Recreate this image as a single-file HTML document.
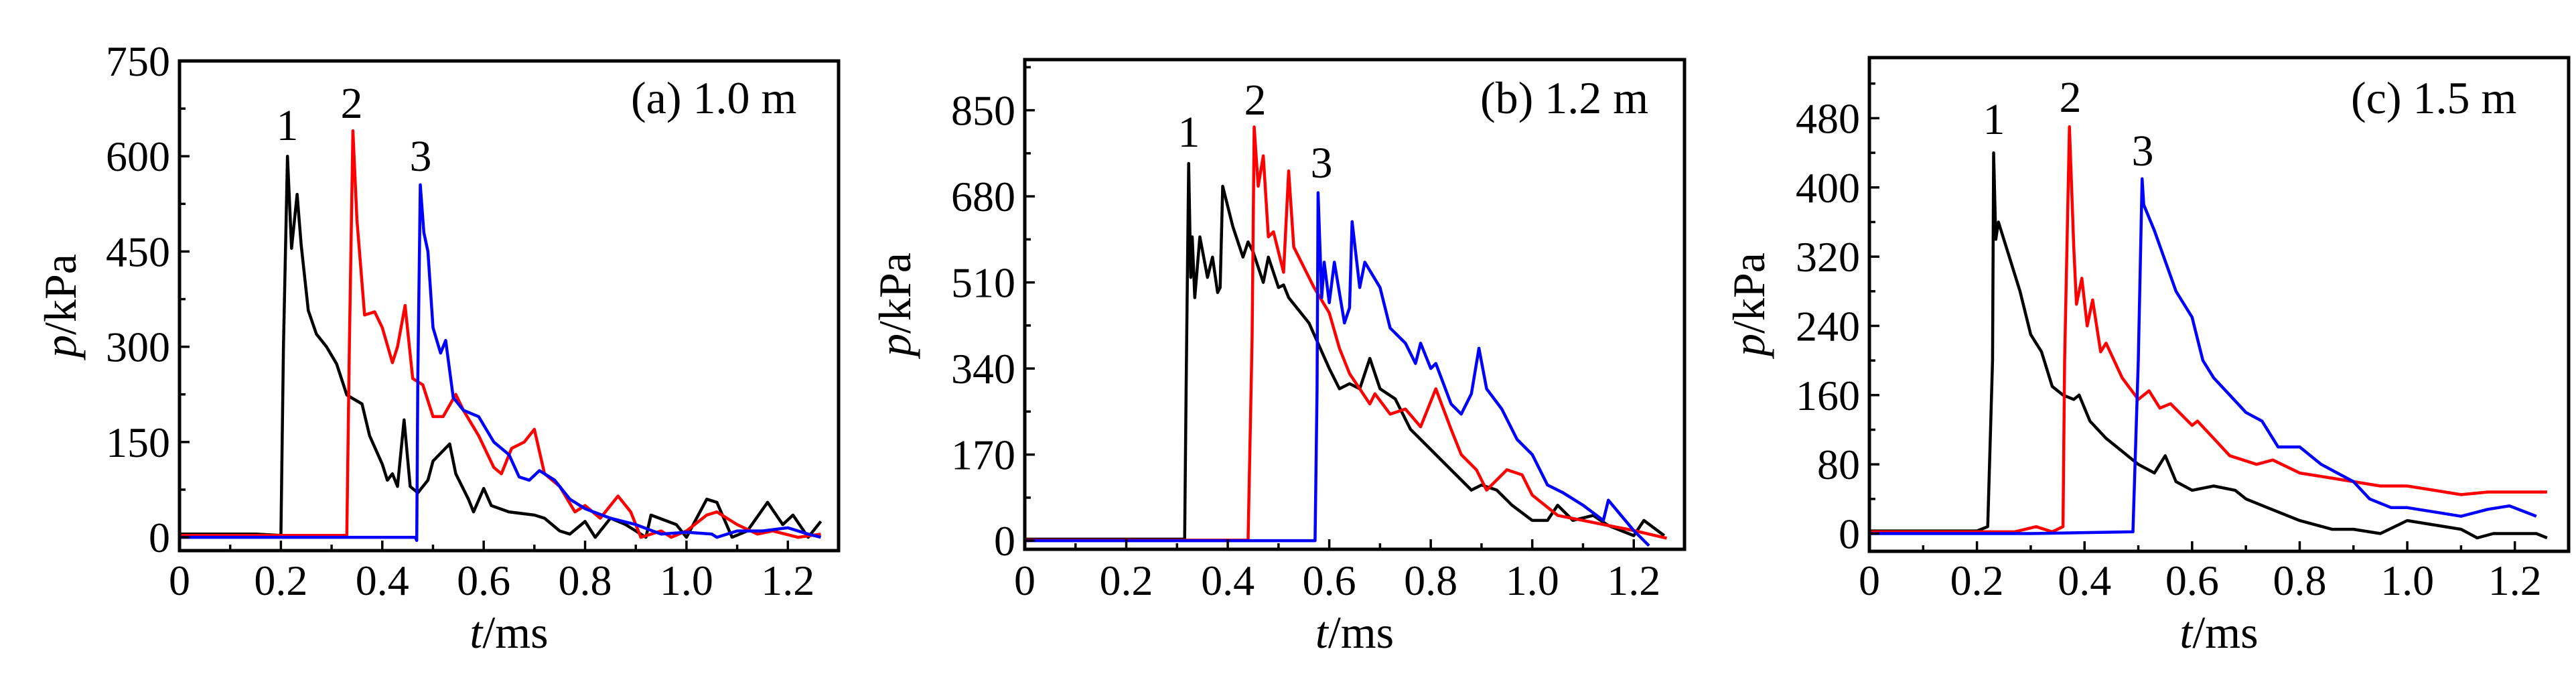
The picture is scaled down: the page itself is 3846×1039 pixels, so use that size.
<!DOCTYPE html>
<html><head><meta charset="utf-8"><style>
html,body{margin:0;padding:0;background:#fff;}
svg{display:block;font-family:"Liberation Serif",serif;}
</style></head><body>
<svg id="fig" width="3846" height="1039" viewBox="0 0 3846 1039" xmlns="http://www.w3.org/2000/svg"></svg>
<script>
// ---- data (t in ms, p in kPa) ----
const xTicks = [0, 0.2, 0.4, 0.6, 0.8, 1.0, 1.2];
const xTickLabels = ["0", "0.2", "0.4", "0.6", "0.8", "1.0", "1.2"];
const yTicksA = [0, 150, 300, 450, 600, 750];
const yTicksB = [0, 170, 340, 510, 680, 850];
const yTicksC = [0, 80, 160, 240, 320, 400, 480];

const a1T = [0,0.1,0.15,0.2,0.205,0.213,0.221,0.232,0.24,0.254,0.27,0.29,0.31,0.33,0.36,0.375,0.4,0.41,0.42,0.43,0.443,0.455,0.47,0.49,0.5,0.533,0.545,0.57,0.58,0.6,0.615,0.65,0.7,0.72,0.75,0.77,0.8,0.82,0.85,0.88,0.92,0.93,0.98,1.0,1.04,1.06,1.09,1.12,1.16,1.19,1.21,1.24,1.265];
const a1P = [5,5,5,3,300,600,455,540,460,357,320,300,273,224,210,160,115,90,100,80,185,80,70,90,120,147,100,60,40,77,50,40,35,30,10,5,25,0,30,20,0,35,20,0,60,55,0,10,55,20,35,0,25];
const a2T = [0,0.2,0.33,0.335,0.342,0.35,0.365,0.385,0.4,0.42,0.43,0.445,0.46,0.48,0.5,0.52,0.545,0.56,0.59,0.62,0.635,0.655,0.68,0.7,0.72,0.75,0.78,0.8,0.83,0.865,0.89,0.91,0.95,0.97,1.0,1.04,1.06,1.1,1.14,1.17,1.22,1.265];
const a2P = [3,3,3,300,640,500,350,355,330,275,300,365,250,240,190,190,225,200,160,110,100,140,150,170,100,80,40,50,30,65,40,0,10,0,10,35,40,20,5,10,0,5];
const a3T = [0,0.3,0.465,0.468,0.47,0.475,0.482,0.49,0.5,0.515,0.525,0.54,0.56,0.59,0.62,0.65,0.67,0.69,0.71,0.74,0.77,0.8,0.85,0.9,0.95,1.0,1.05,1.06,1.1,1.15,1.2,1.24,1.265];
const a3P = [0,0,0,-5,250,555,480,450,330,290,310,220,200,190,150,130,95,90,105,90,60,45,30,20,5,8,5,0,10,10,15,5,0];

const b1T = [0,0.2,0.315,0.318,0.323,0.327,0.33,0.335,0.345,0.36,0.37,0.38,0.385,0.39,0.41,0.43,0.44,0.45,0.47,0.48,0.5,0.51,0.52,0.56,0.6,0.62,0.64,0.66,0.68,0.7,0.73,0.76,0.8,0.85,0.88,0.9,0.93,0.96,1.0,1.03,1.05,1.08,1.12,1.15,1.2,1.22,1.26];
const b1P = [3,3,3,300,745,520,600,480,600,520,560,490,500,700,620,560,590,570,510,560,500,505,480,430,340,300,310,300,360,300,280,220,180,130,100,110,100,70,40,40,70,40,50,30,10,40,10];
const b2T = [0,0.2,0.44,0.448,0.452,0.46,0.47,0.48,0.49,0.51,0.52,0.53,0.55,0.57,0.6,0.62,0.64,0.68,0.69,0.72,0.75,0.78,0.81,0.84,0.86,0.89,0.91,0.95,0.98,1.0,1.05,1.1,1.15,1.2,1.265];
const b2P = [1,1,1,400,817,700,760,600,610,530,730,580,540,500,450,380,330,270,290,250,260,225,300,220,170,140,100,140,130,90,50,40,30,20,5];
const b3T = [0,0.3,0.572,0.576,0.578,0.585,0.59,0.6,0.61,0.63,0.64,0.645,0.66,0.67,0.7,0.72,0.75,0.77,0.78,0.8,0.81,0.84,0.86,0.88,0.895,0.91,0.94,0.97,1.0,1.03,1.06,1.1,1.14,1.15,1.2,1.23];
const b3P = [0,0,0,300,687,480,550,470,550,430,460,630,500,550,500,420,390,350,390,340,350,270,250,290,380,300,260,200,170,110,95,70,40,80,20,-10];

const c1T = [0,0.2,0.22,0.229,0.231,0.235,0.24,0.26,0.28,0.3,0.32,0.34,0.36,0.38,0.39,0.41,0.44,0.46,0.5,0.53,0.55,0.57,0.6,0.64,0.68,0.7,0.74,0.78,0.8,0.86,0.9,0.95,1.0,1.05,1.1,1.13,1.16,1.24,1.26];
const c1P = [3,3,8,200,440,340,360,320,280,230,210,170,160,155,160,130,110,100,80,70,90,60,50,55,50,40,30,20,15,5,5,0,15,10,5,-5,0,0,-5];
const c2T = [0,0.27,0.31,0.34,0.36,0.363,0.372,0.38,0.385,0.395,0.405,0.415,0.43,0.44,0.47,0.5,0.52,0.54,0.56,0.6,0.61,0.64,0.67,0.72,0.75,0.8,0.85,0.9,0.95,1.0,1.05,1.1,1.15,1.26];
const c2P = [2,2,8,2,8,200,470,330,265,295,240,270,210,220,180,155,165,145,150,125,130,110,90,80,85,70,65,60,55,55,50,45,48,48];
const c3T = [0,0.3,0.49,0.5,0.507,0.51,0.53,0.57,0.6,0.62,0.64,0.67,0.7,0.73,0.76,0.8,0.84,0.87,0.9,0.93,0.97,1.0,1.05,1.1,1.15,1.19,1.24];
const c3P = [0,0,2,200,410,380,350,280,250,200,180,160,140,130,100,100,80,70,60,40,30,30,25,20,28,32,20];

const NS = "http://www.w3.org/2000/svg";
const svg = document.getElementById('fig');
function mk(tag, attrs, parent){ const e=document.createElementNS(NS,tag); for(const k in attrs) e.setAttribute(k,attrs[k]); (parent||svg).appendChild(e); return e; }

const panels = [
  {id:'a', L:268, R:1252, T:91, B:822, yMin:-21, yMax:750, yTicks:yTicksA, yStep:75, title:"(a) 1.0 m", titleX:942, ytX:91,
   series:[[a1T,a1P,'#000'],[a2T,a2P,'#ff0000'],[a3T,a3P,'#0000ff']],
   nums:[[429,209],[525,176],[628,255]]},
  {id:'b', L:1530, R:2515, T:89, B:820, yMin:-17, yMax:950, yTicks:yTicksB, yStep:85, title:"(b) 1.2 m", titleX:2210, ytX:1337,
   series:[[b1T,b1P,'#000'],[b2T,b2P,'#ff0000'],[b3T,b3P,'#0000ff']],
   nums:[[1775,219],[1874,171],[1973,265]]},
  {id:'c', L:2791, R:3835, T:86, B:823, yMin:-20.5, yMax:550, yTicks:yTicksC, yStep:40, title:"(c) 1.5 m", titleX:3510, ytX:2612,
   series:[[c1T,c1P,'#000'],[c2T,c2P,'#ff0000'],[c3T,c3P,'#0000ff']],
   nums:[[2977,200],[3091,167],[3199,247]]}
];

panels.forEach(p=>{
  const g = mk('g',{});
  
  
  const xs = t => p.L + t/1.3*(p.R-p.L);
  const ys = v => p.B - (v-p.yMin)/(p.yMax-p.yMin)*(p.B-p.T);
  const cp = mk('clipPath',{id:'clip'+p.id},g);
  mk('rect',{x:p.L,y:p.T,width:p.R-p.L,height:p.B-p.T},cp);
  p.series.forEach((s,i)=>{
    const pts = s[0].map((t,j)=>xs(t).toFixed(1)+','+ys(s[1][j]).toFixed(1)).join(' ');
    const pl = mk('polyline',{points:pts,fill:'none',stroke:s[2],'stroke-width':4.5,'stroke-linejoin':'round','clip-path':'url(#clip'+p.id+')'},g);
    
    
  });
  const fr = mk('rect',{x:p.L,y:p.T,width:p.R-p.L,height:p.B-p.T,fill:'none',stroke:'#000','stroke-width':5},g);
  
  
  for(let k=0;k<=12;k++){
    const t=k*0.1, X=xs(t), len = k%2===0?15:9;
    mk('line',{x1:X,y1:p.B,x2:X,y2:p.B-len,stroke:'#000','stroke-width':3.5},g);
  }
  xTicks.forEach((t,i)=>{
    const tx = mk('text',{x:xs(t),y:888,'font-size':64,'text-anchor':'middle'},g);
    tx.textContent = xTickLabels[i];
    
    
  });
  for(let v=0; v<=p.yMax; v+=p.yStep){
    const Y=ys(v), major = Math.round(v/p.yStep)%2===0;
    mk('line',{x1:p.L,y1:Y,x2:p.L+(major?15:9),y2:Y,stroke:'#000','stroke-width':3.5},g);
  }
  p.yTicks.forEach(v=>{
    const tx = mk('text',{x:p.L-14,y:ys(v)+22,'font-size':64,'text-anchor':'end'},g);
    tx.textContent = String(v);
    
    
  });
  const xt = mk('text',{x:(p.L+p.R)/2,y:967,'font-size':68,'text-anchor':'middle'},g);
  xt.innerHTML = '<tspan font-style="italic">t</tspan>/ms';
  
  
  const yt = mk('text',{x:0,y:0,'font-size':68,'text-anchor':'middle',transform:'translate('+(p.ytX+22)+','+((p.T+p.B)/2)+') rotate(-90)'},g);
  yt.innerHTML = '<tspan font-style="italic">p</tspan>/kPa';
  
  
  const pt = mk('text',{x:p.titleX,y:169,'font-size':68},g);
  pt.textContent = p.title;
  
  
  p.nums.forEach((n,i)=>{
    const tx = mk('text',{x:n[0],y:n[1],'font-size':66,'text-anchor':'middle'},g);
    tx.textContent = String(i+1);
    
    
  });
});
</script>
</body></html>
